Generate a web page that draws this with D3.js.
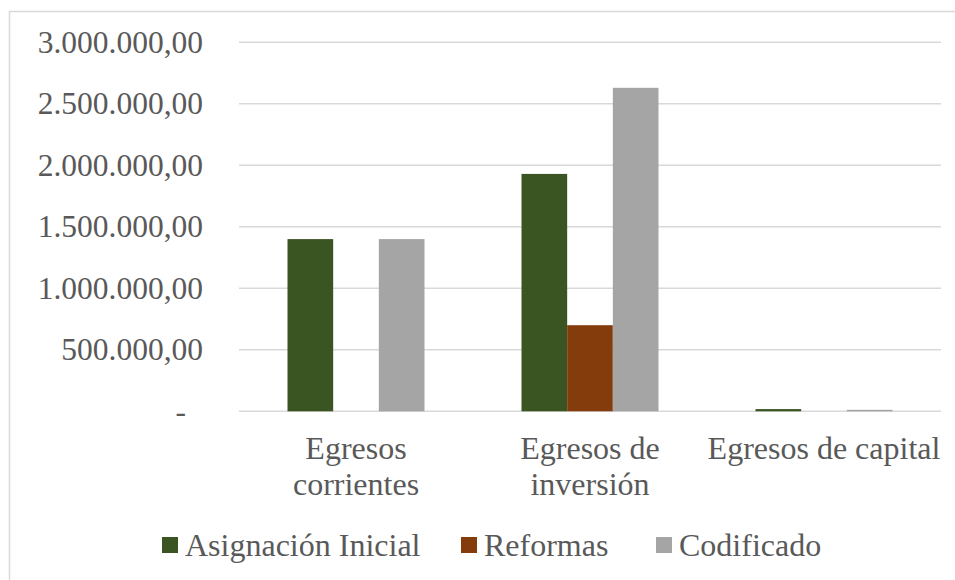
<!DOCTYPE html>
<html><head><meta charset="utf-8">
<script src="https://cdn.jsdelivr.net/npm/d3@7"></script>
<style>
html,body{margin:0;padding:0;background:#fff;}
svg{display:block;}
</style></head>
<body>
<svg id="chart" width="955" height="580"></svg>
<script>
const categories = [["Egresos","corrientes"],["Egresos de","inversión"],["Egresos de capital"]];
const seriesNames = ["Asignación Inicial","Reformas","Codificado"];
const seriesColors = ["#3a5422","#843c0c","#a5a5a5"];
const asignacionInicial = [1400000, 1930000, 18000];
const reformas = [0, 700000, 0];
const codificado = [1400000, 2630000, 12000];
const yTicks = [0, 500000, 1000000, 1500000, 2000000, 2500000, 3000000];
const yTickLabels = ["-", "500.000,00", "1.000.000,00", "1.500.000,00", "2.000.000,00", "2.500.000,00", "3.000.000,00"];

const values = [asignacionInicial, reformas, codificado];
const svg = d3.select("#chart");
const textColor = "#595959";
const FONT = "Liberation Serif";

svg.append("rect").attr("x", 9.5).attr("y", 11.5).attr("width", 960).attr("height", 600)
  .attr("fill", "#fff").attr("stroke", "#d9d9d9").attr("stroke-width", 1.5);

const plot = {left: 239, right: 941, top: 42.3, bottom: 411.3};
const y = d3.scaleLinear().domain([0, 3000000]).range([plot.bottom, plot.top]);
const x0 = d3.scaleBand().domain(d3.range(categories.length)).range([plot.left, plot.right]);
const x1 = d3.scaleBand().domain(d3.range(seriesNames.length))
  .range([48.5, x0.bandwidth() - 48.5]);

// gridlines
svg.append("g").selectAll("line").data(yTicks).join("line")
  .attr("x1", plot.left).attr("x2", plot.right)
  .attr("y1", d => y(d)).attr("y2", d => y(d))
  .attr("stroke", "#d9d9d9").attr("stroke-width", 1.5);

// y labels
svg.append("g").selectAll("text").data(yTicks).join("text")
  .attr("x", (d, i) => i === 0 ? 186 : 203)
  .attr("y", d => y(d) + 10.5)
  .attr("text-anchor", "end")
  .attr("font-family", FONT)
  .attr("font-size", 31.5).attr("fill", textColor)
  .text((d, i) => yTickLabels[i]);

// bars
const g = svg.append("g");
categories.forEach((c, ci) => {
  values.forEach((vals, si) => {
    const v = vals[ci];
    if (v <= 0) return;
    g.append("rect")
      .attr("x", x0(ci) + x1(si))
      .attr("width", x1.bandwidth())
      .attr("y", y(v))
      .attr("height", y(0) - y(v))
      .attr("fill", seriesColors[si]);
  });
});

// category labels
const cl = svg.append("g");
categories.forEach((lines, ci) => {
  const t = cl.append("text").attr("text-anchor", "middle")
    .attr("font-family", FONT)
    .attr("font-size", 32).attr("fill", textColor);
  lines.forEach((ln, li) => {
    t.append("tspan").attr("x", x0(ci) + x0.bandwidth() / 2)
      .attr("y", 459 + li * 36).text(ln);
  });
});

// legend
const legendX = [162, 461, 656];
const lg = svg.append("g");
seriesNames.forEach((n, i) => {
  lg.append("rect").attr("x", legendX[i]).attr("y", 537).attr("width", 16).attr("height", 16)
    .attr("fill", seriesColors[i]);
  lg.append("text").attr("x", legendX[i] + 23).attr("y", 556)
    .attr("font-family", FONT)
    .attr("font-size", 32).attr("fill", textColor).text(n);
});
</script>
</body></html>
